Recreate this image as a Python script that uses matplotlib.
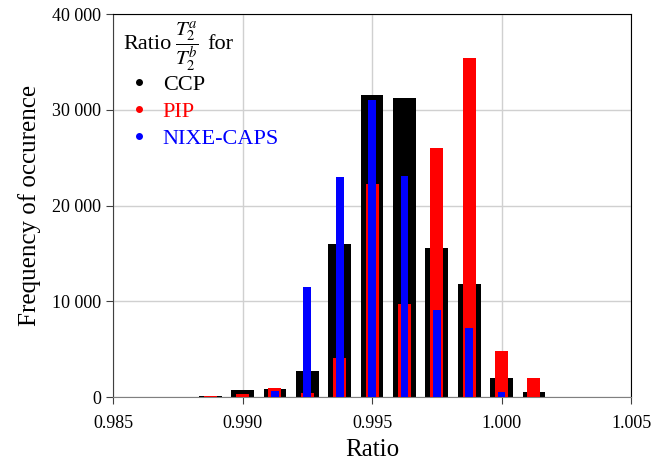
import matplotlib
matplotlib.use("Agg")
from matplotlib import pyplot as plt
from matplotlib.lines import Line2D
from matplotlib.ticker import FuncFormatter

plt.rcParams['font.family'] = ['Liberation Serif', 'DejaVu Serif']
plt.rcParams['mathtext.fontset'] = 'stix'

ratio = [0.98875, 0.990, 0.99125, 0.9925, 0.99375, 0.995,
         0.99625, 0.9975, 0.99875, 1.000, 1.00125]
ccp = [130, 730, 900, 2700, 16000, 31600, 31200, 15550, 11800, 2000, 520]
pip = [100, 390, 920, 480, 4100, 22300, 9700, 26000, 35400, 4800, 2050]
nixe = [0, 0, 700, 11500, 23000, 31000, 23150, 9150, 7200, 590, 0]

fig = plt.figure(figsize=(6.65, 4.70), dpi=100)
ax = fig.add_axes([0.170, 0.1547, 0.779, 0.8153])

ax.bar(ratio, ccp, width=0.000875, color="black", zorder=2)
ax.bar(ratio, pip, width=0.0005, color="#ff0000", zorder=3)
ax.bar(ratio, nixe, width=0.0003, color="#0000ff", zorder=4)

ax.set_xlim(0.985, 1.005)
ax.set_ylim(0, 40000)
ax.set_xticks([0.985, 0.990, 0.995, 1.000, 1.005])
ax.set_yticks([0, 10000, 20000, 30000, 40000])
ax.xaxis.set_major_formatter(FuncFormatter(lambda v, p: "%.3f" % v))
ax.yaxis.set_major_formatter(FuncFormatter(lambda v, p: "{:,}".format(int(v)).replace(",", " ")))
ax.grid(True, color="#d0d0d0", linewidth=1, zorder=0)
ax.set_axisbelow(True)
ax.tick_params(labelsize=13, direction="out", length=5, color="#404040")
ax.tick_params(axis="x", pad=8)
for s in ax.spines.values():
    s.set_color("black")
ax.spines['left'].set_color("#404040")
ax.spines['bottom'].set_color("#808080")

ax.set_xlabel("Ratio", fontsize=18, labelpad=5)
ax.set_ylabel("Frequency of occurence", fontsize=18, labelpad=8)

# legend title, drawn as separate texts so the fraction can be larger
fig.text(0.186, 0.8957, "Ratio", fontsize=16, va="baseline")
fig.text(0.2805, 0.902, r"$\dfrac{T_2^a}{T_2^b}$", fontsize=15, ha="center", va="center")
fig.text(0.311, 0.8957, "for", fontsize=16, va="baseline")

handles = [Line2D([], [], linestyle="none", marker="o", markersize=4, color=c)
           for c in ["black", "#ff0000", "#0000ff"]]
leg = ax.legend(handles, ["CCP", "PIP", "NIXE-CAPS"],
                loc="upper left", bbox_to_anchor=(-0.005, 0.89),
                frameon=False, fontsize=16,
                labelcolor=["black", "#ff0000", "#0000ff"],
                handlelength=1.0, handletextpad=0.55, labelspacing=0.3,
                borderpad=0.3)

fig.savefig("out.png", dpi=100)
